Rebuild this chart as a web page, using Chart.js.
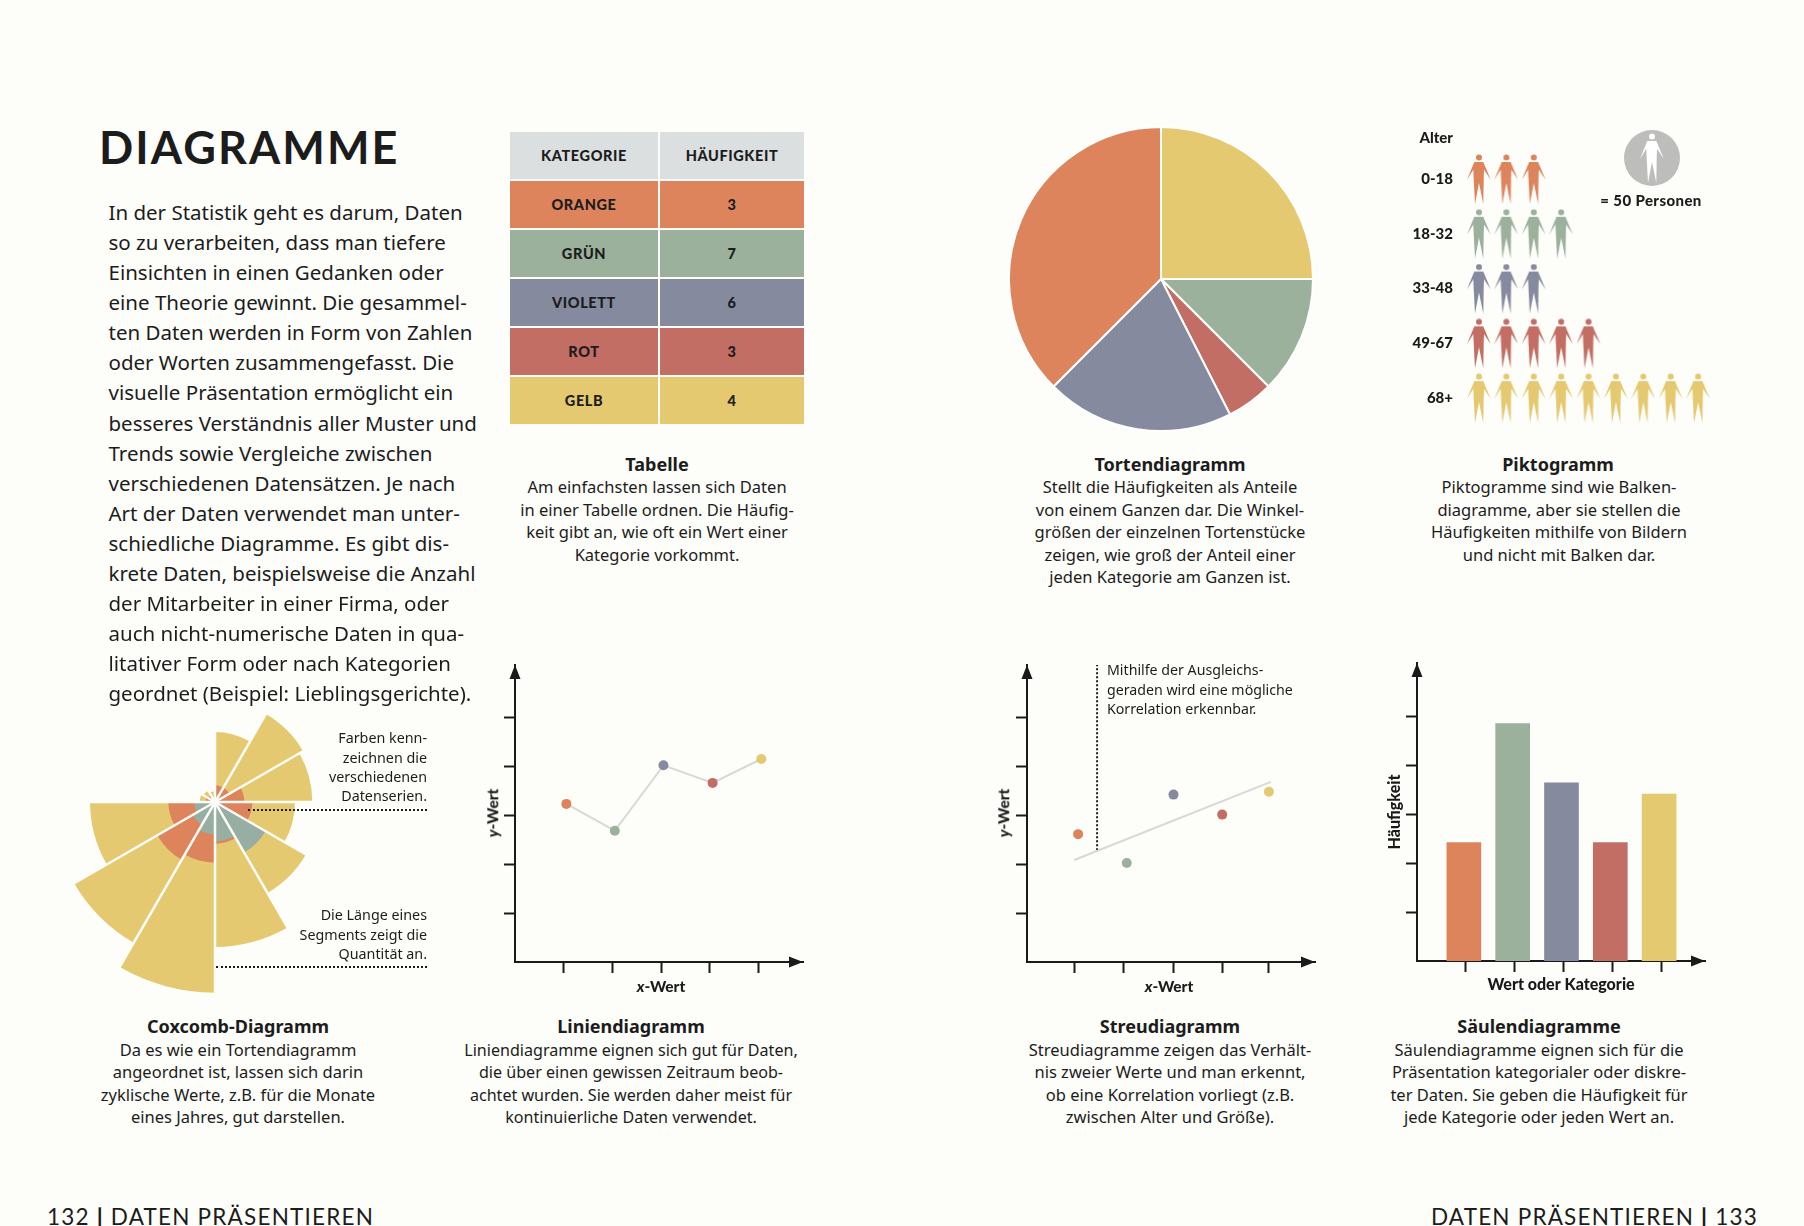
<!DOCTYPE html>
<html lang="de">
<head>
<meta charset="utf-8">
<title>Diagramme</title>
<script src="https://cdn.jsdelivr.net/npm/chart.js@4"></script>
<style>
  html, body { margin: 0; padding: 0; background: #fdfdfa; }
  body { position: relative; width: 1804px; height: 1226px; overflow: hidden; color: #1c1c1c; font-family: "Noto Sans", sans-serif; }
  canvas { position: absolute; }
  .t { position: absolute; white-space: nowrap; line-height: 1; }
  #tabelle { position: absolute; left: 508px; top: 130px; border-collapse: separate; border-spacing: 2px; font-family: Lato, sans-serif; font-weight: 900; font-size: 14.5px; letter-spacing: .6px; }
  #tabelle td { height: 47px; padding: 0; text-align: center; }
  #tabelle td:first-child { width: 148px; }
  #tabelle td:last-child { width: 144px; }
</style>
</head>
<body>
<table id="tabelle"></table>
<canvas id="coxcomb" width="400" height="400" style="left:15px;top:602px"></canvas>
<canvas id="torte" width="306" height="306" style="left:1008px;top:126px"></canvas>
<canvas id="pikto" width="320" height="300" style="left:1400px;top:130px"></canvas>
<canvas id="legende" width="56" height="56" style="left:1624px;top:130px"></canvas>
<canvas id="linie" width="338" height="337" style="left:475px;top:655px"></canvas>
<canvas id="streu" width="338" height="337" style="left:987px;top:655px"></canvas>
<canvas id="saeule" width="330" height="341" style="left:1385px;top:653px"></canvas>
<script>
// Farben
const orange = "#dd845c", gruen = "#9bb19c", violett = "#868a9f", rot = "#c26e64", gelb = "#e5c970";
const tuerkis = "#97aea3", kopfGrau = "#dbdfe0", papier = "#fdfdfa", schwarz = "#1a1a1a";
const farben = [orange, gruen, violett, rot, gelb];

// Daten
const tabKategorien = ["ORANGE", "GRÜN", "VIOLETT", "ROT", "GELB"];
const tabHaeufigkeit = ["3", "7", "6", "3", "4"];

const torteWerte = [25, 12.5, 5, 20, 37.5];
const torteFarben = [gelb, gruen, rot, violett, orange];

const altersGruppen = ["0-18", "18-32", "33-48", "49-67", "68+"];
const personenAnzahl = [3, 4, 3, 5, 9];

const coxMonate = ["1", "2", "3", "4", "5", "6", "7", "8", "9", "10", "11", "12"];
const coxGelb = [210, 305, 292, 240, 315, 435, 572, 488, 375, 46, 40, 32];
const coxOrange = [50, 50, 88, 112, 90, 125, 182, 200, 140, 28, 24, 18];
const coxTuerkis = [0, 0, 0, 0, 175, 118, 97, 78, 62, 0, 0, 0];

const linieX = [1.055, 2.05, 3.05, 4.06, 5.06];
const linieY = [3.24, 2.69, 4.03, 3.67, 4.16];

const streuX = [1.05, 2.05, 3.01, 4.01, 4.97];
const streuY = [2.62, 2.03, 3.43, 3.02, 3.49];
const streuTicksX = [0.98, 1.98, 3.01, 4.01, 4.97];
const geradeX = [0.97, 5.01];
const geradeY = [2.09, 3.69];
const hinweisX = [1.44, 1.44];
const hinweisY = [2.29, 6.09];

const saeuleKategorien = ["Orange", "Grün", "Violett", "Rot", "Gelb"];
const saeuleX = [0.96, 1.96, 2.96, 3.96, 4.96];
const saeuleWerte = [2.42, 4.85, 3.64, 2.42, 3.41];

const achsenTicks = [1, 2, 3, 4, 5];

Chart.defaults.responsive = false;
Chart.defaults.animation = false;
Chart.defaults.font.family = "Lato, sans-serif";
Chart.defaults.layout.autoPadding = false;
Chart.defaults.plugins.legend.display = false;
Chart.defaults.plugins.tooltip.enabled = false;

// Pfeilspitzen an den Achsenenden
const pfeile = {
  id: "pfeile",
  afterDraw(chart) {
    const { left, top, right, bottom } = chart.chartArea;
    const c = chart.ctx;
    c.save();
    c.fillStyle = schwarz;
    c.beginPath();
    c.moveTo(left, top); c.lineTo(left - 5.5, top + 14); c.lineTo(left + 5.5, top + 14);
    c.closePath(); c.fill();
    c.beginPath();
    c.moveTo(right, bottom); c.lineTo(right - 14, bottom - 5.5); c.lineTo(right - 14, bottom + 5.5);
    c.closePath(); c.fill();
    c.restore();
  }
};

function achse(max, ticks, breite, titel) {
  const a = {
    type: "linear",
    min: 0,
    max: max,
    offset: false,
    afterBuildTicks: s => { s.ticks = ticks.map(v => ({ value: v })); },
    afterFit: s => { if (s.isHorizontal()) s.height = breite; else s.width = breite; },
    ticks: { display: false, autoSkip: false },
    border: { color: schwarz, width: 2 },
    grid: { offset: false, drawOnChartArea: false, drawTicks: true, tickLength: 11, tickColor: schwarz, tickWidth: 2 }
  };
  if (titel) {
    a.title = { display: true, text: titel, color: schwarz, padding: 0, font: { size: 16, weight: "900" } };
  }
  return a;
}

function tabelle() {
  const t = document.getElementById("tabelle");
  const zeile = (a, b, farbe) => {
    const tr = t.insertRow();
    [a, b].forEach(x => { const td = tr.insertCell(); td.textContent = x; td.style.background = farbe; });
  };
  zeile("KATEGORIE", "HÄUFIGKEIT", kopfGrau);
  tabKategorien.forEach((k, i) => zeile(k, tabHaeufigkeit[i], farben[i]));
}
tabelle();

new Chart(document.getElementById("torte"), {
  type: "pie",
  data: { labels: tabKategorien, datasets: [{ data: torteWerte, backgroundColor: torteFarben, borderColor: "#ffffff", borderWidth: 2 }] }
});

new Chart(document.getElementById("coxcomb"), {
  type: "polarArea",
  data: {
    labels: coxMonate,
    datasets: [
      { data: coxTuerkis, backgroundColor: tuerkis, borderWidth: 0 },
      { data: coxOrange, backgroundColor: orange, borderWidth: 0 },
      { data: coxGelb, backgroundColor: gelb, borderWidth: 0 }
    ]
  },
  options: {
    scales: {
      r: {
        min: 0, max: 600,
        ticks: { display: false },
        grid: { display: false, z: 1 },
        angleLines: { display: true, color: papier, lineWidth: 2.5 },
        pointLabels: { display: false }
      }
    }
  }
});

// Figur fuer das Piktogramm
function figur(c, farbe, ox, oy) {
  c.fillStyle = farbe;
  c.beginPath();
  c.arc(ox + 12, oy + 3.5, 3, 0, Math.PI * 2);
  c.fill();
  const p = [[7.3, 8], [0, 25.7], [6.3, 15.7], [6.7, 25], [8, 50], [12, 29], [16.3, 50], [16.7, 25], [17, 15.7], [23.7, 25.7], [16.3, 8]];
  c.beginPath();
  p.forEach((q, i) => i ? c.lineTo(ox + q[0], oy + q[1]) : c.moveTo(ox + q[0], oy + q[1]));
  c.closePath();
  c.fill();
}
function figurBild(farbe) {
  const b = document.createElement("canvas");
  b.width = 24; b.height = 50;
  figur(b.getContext("2d"), farbe, 0, 0);
  return b;
}

const piktoDaten = [];
const piktoBilder = [];
personenAnzahl.forEach((n, zeile) => {
  const bild = figurBild(farben[zeile]);
  for (let k = 1; k <= n; k++) {
    piktoDaten.push({ x: k, y: zeile + 1 });
    piktoBilder.push(bild);
  }
});

new Chart(document.getElementById("pikto"), {
  type: "scatter",
  data: { datasets: [{ data: piktoDaten, pointStyle: piktoBilder, clip: false }] },
  options: {
    scales: {
      x: { display: false, min: 0.307, max: 9.8 },
      y: {
        reverse: true, min: 0.106, max: 5.582,
        afterBuildTicks: s => { s.ticks = altersGruppen.map((g, i) => ({ value: i + 1 })); },
        afterFit: s => { s.width = 60; s.paddingTop = 0; s.paddingBottom = 0; },
        border: { display: false },
        grid: { display: false, drawTicks: false },
        ticks: {
          autoSkip: false, padding: 7, color: schwarz,
          font: { size: 15, weight: "900" },
          callback: v => altersGruppen[v - 1]
        }
      }
    }
  }
});

// Symbol "= 50 Personen"
(function () {
  const c = document.getElementById("legende").getContext("2d");
  c.fillStyle = "#bdbdbc";
  c.beginPath();
  c.arc(28, 28, 28, 0, Math.PI * 2);
  c.fill();
  c.save();
  c.translate(16, 3);
  figur(c, "#ffffff", 0, 0);
  c.restore();
})();

new Chart(document.getElementById("linie"), {
  type: "line",
  plugins: [pfeile],
  data: {
    datasets: [{
      data: linieX.map((x, i) => ({ x: x, y: linieY[i] })),
      borderColor: "#d8d8d5", borderWidth: 2, tension: 0,
      pointRadius: 5, pointBorderWidth: 0, pointBackgroundColor: farben
    }]
  },
  options: {
    layout: { padding: { top: 10, right: 10 } },
    scales: { x: achse(5.917, achsenTicks, 30), y: achse(6.086, achsenTicks, 40) }
  }
});

new Chart(document.getElementById("streu"), {
  type: "scatter",
  plugins: [pfeile],
  data: {
    datasets: [
      { data: streuX.map((x, i) => ({ x: x, y: streuY[i] })), pointRadius: 5, pointBorderWidth: 0, pointBackgroundColor: farben },
      { data: geradeX.map((x, i) => ({ x: x, y: geradeY[i] })), showLine: true, borderColor: "#d8d8d5", borderWidth: 2, pointRadius: 0 },
      { data: hinweisX.map((x, i) => ({ x: x, y: hinweisY[i] })), showLine: true, borderColor: schwarz, borderWidth: 2, borderDash: [2, 2], pointRadius: 0 }
    ]
  },
  options: {
    layout: { padding: { top: 10, right: 10 } },
    scales: { x: achse(5.917, streuTicksX, 30), y: achse(6.086, achsenTicks, 40) }
  }
});

new Chart(document.getElementById("saeule"), {
  type: "bar",
  plugins: [pfeile],
  data: {
    labels: saeuleKategorien,
    datasets: [{
      data: saeuleWerte.map((v, i) => ({ x: saeuleX[i], y: v })),
      backgroundColor: farben, barThickness: 34, borderWidth: 0
    }]
  },
  options: {
    layout: { padding: { top: 10, right: 10 } },
    scales: { x: achse(5.9, achsenTicks, 33, "Wert oder Kategorie"), y: achse(6.09, achsenTicks, 32, "Häufigkeit") }
  }
});

// Texte
function text(inhalt, x, y, opt) {
  const o = opt || {};
  const d = document.createElement("div");
  d.className = "t";
  d.innerHTML = inhalt;
  const dx = o.align === "right" ? "-100%" : o.align === "left" ? "0" : "-50%";
  d.style.left = x + "px";
  d.style.top = y + "px";
  d.style.transform = "translate(" + dx + ",-50%)" + (o.rot ? " rotate(-90deg)" : "");
  d.style.fontSize = (o.size || 16.5) + "px";
  if (o.weight) d.style.fontWeight = o.weight;
  if (o.font) d.style.fontFamily = o.font;
  if (o.spacing) d.style.letterSpacing = o.spacing + "px";
  document.body.appendChild(d);
}
function block(zeilen, x, yListe, opt) {
  zeilen.forEach((z, i) => text(z, x, yListe[i], opt));
}

text("DIAGRAMME", 99, 147, { align: "left", size: 45, weight: 700, font: "Lato", spacing: 2.1 });

const absatz = [
  "In der Statistik geht es darum, Daten",
  "so zu verarbeiten, dass man tiefere",
  "Einsichten in einen Gedanken oder",
  "eine Theorie gewinnt. Die gesammel-",
  "ten Daten werden in Form von Zahlen",
  "oder Worten zusammengefasst. Die",
  "visuelle Präsentation ermöglicht ein",
  "besseres Verständnis aller Muster und",
  "Trends sowie Vergleiche zwischen",
  "verschiedenen Datensätzen. Je nach",
  "Art der Daten verwendet man unter-",
  "schiedliche Diagramme. Es gibt dis-",
  "krete Daten, beispielsweise die Anzahl",
  "der Mitarbeiter in einer Firma, oder",
  "auch nicht-numerische Daten in qua-",
  "litativer Form oder nach Kategorien",
  "geordnet (Beispiel: Lieblingsgerichte)."
];
absatz.forEach((z, i) => text(z, 108.5, 212 + i * 30.08, { align: "left", size: 20.5 }));

const obenY = [487, 509.5, 532, 554.5, 577];
const untenY = [1049.5, 1072, 1094.5, 1117];
const kopf = { size: 18, weight: 700 };

text("Tabelle", 657, 464, kopf);
block(["Am einfachsten lassen sich Daten", "in einer Tabelle ordnen. Die Häufig-", "keit gibt an, wie oft ein Wert einer", "Kategorie vorkommt."], 657, obenY);

text("Tortendiagramm", 1170, 464, kopf);
block(["Stellt die Häufigkeiten als Anteile", "von einem Ganzen dar. Die Winkel-", "größen der einzelnen Tortenstücke", "zeigen, wie groß der Anteil einer", "jeden Kategorie am Ganzen ist."], 1170, obenY);

text("Piktogramm", 1558, 464, kopf);
block(["Piktogramme sind wie Balken-", "diagramme, aber sie stellen die", "Häufigkeiten mithilfe von Bildern", "und nicht mit Balken dar."], 1559, obenY);

text("Coxcomb-Diagramm", 238, 1026, kopf);
block(["Da es wie ein Tortendiagramm", "angeordnet ist, lassen sich darin", "zyklische Werte, z.B. für die Monate", "eines Jahres, gut darstellen."], 238, untenY);

text("Liniendiagramm", 631, 1026, kopf);
block(["Liniendiagramme eignen sich gut für Daten,", "die über einen gewissen Zeitraum beob-", "achtet wurden. Sie werden daher meist für", "kontinuierliche Daten verwendet."], 631, untenY, { size: 16.1 });

text("Streudiagramm", 1170, 1026, kopf);
block(["Streudiagramme zeigen das Verhält-", "nis zweier Werte und man erkennt,", "ob eine Korrelation vorliegt (z.B.", "zwischen Alter und Größe)."], 1170, untenY);

text("Säulendiagramme", 1539, 1026, kopf);
block(["Säulendiagramme eignen sich für die", "Präsentation kategorialer oder diskre-", "ter Daten. Sie geben die Häufigkeit für", "jede Kategorie oder jeden Wert an."], 1539, untenY);

// Anmerkungen
const klein = { align: "right", size: 14.3 };
block(["Farben kenn-", "zeichnen die", "verschiedenen", "Datenserien."], 427, [738, 757.5, 777, 796], klein);
block(["Die Länge eines", "Segments zeigt die", "Quantität an."], 427, [915, 934.5, 954], klein);
block(["Mithilfe der Ausgleichs-", "geraden wird eine mögliche", "Korrelation erkennbar."], 1107, [670, 689.5, 709], { align: "left", size: 14.2 });

function punktLinie(x, y, breite) {
  const d = document.createElement("div");
  d.style.cssText = "position:absolute;left:" + x + "px;top:" + y + "px;width:" + breite + "px;border-top:2px dotted " + schwarz;
  document.body.appendChild(d);
}
punktLinie(248, 809, 179);
punktLinie(216, 966, 211);

const achsText = { size: 15.5, weight: 900, font: "Lato" };
text("<i>x</i>-Wert", 661, 987, achsText);
text("<i>y</i>-Wert", 493, 813, Object.assign({ rot: true }, achsText));
text("<i>x</i>-Wert", 1169, 987, achsText);
text("<i>y</i>-Wert", 1004, 813, Object.assign({ rot: true }, achsText));

const piktoText = { size: 15, weight: 900, font: "Lato" };
text("Alter", 1453, 137, Object.assign({ align: "right" }, piktoText));
text("= 50 Personen", 1651, 200, Object.assign({ spacing: .4 }, piktoText));

const fuss = { size: 22.5, font: "Lato", spacing: 1.2 };
text("132 <b style=\"font-weight:900\">|</b> DATEN PRÄSENTIEREN", 47, 1217, Object.assign({ align: "left" }, fuss));
text("DATEN PRÄSENTIEREN <b style=\"font-weight:900\">|</b> 133", 1758, 1217, Object.assign({ align: "right" }, fuss));
</script>
</body>
</html>
